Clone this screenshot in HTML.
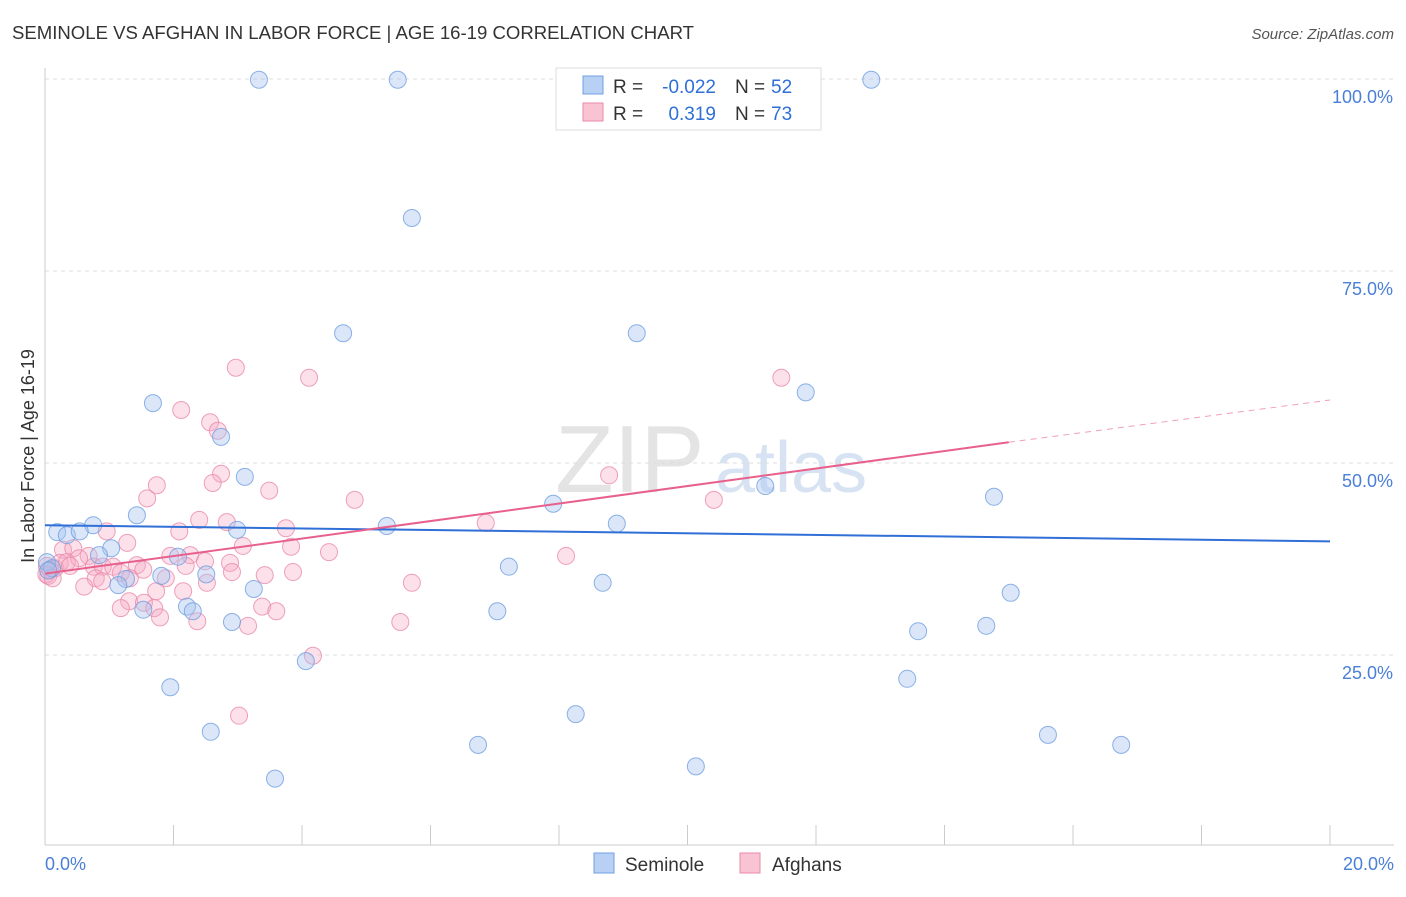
<!DOCTYPE html>
<html><head><meta charset="utf-8"><style>
body{margin:0;background:#fff;font-family:"Liberation Sans",sans-serif}
svg text{font-family:"Liberation Sans",sans-serif}
</style></head><body>
<svg id="c" width="1406" height="892">
<text x="12" y="39" font-size="18" fill="#333" textLength="682" lengthAdjust="spacingAndGlyphs">SEMINOLE VS AFGHAN IN LABOR FORCE | AGE 16-19 CORRELATION CHART</text>
<text x="1394" y="39" font-size="15" fill="#555" font-style="italic" text-anchor="end">Source: ZipAtlas.com</text>
<g><text x="555" y="492" font-size="96" fill="#e4e4e4" font-family="Liberation Serif">ZIP</text><text x="715" y="492" font-size="72" fill="#d7e3f3">atlas</text></g>
<g id="grid"></g><g id="axes"></g><g id="pts"></g><g id="lines"></g>
<text transform="translate(34,456) rotate(-90)" font-size="18" fill="#333" text-anchor="middle">In Labor Force | Age 16-19</text>
<g>
<rect x="556" y="68" width="265" height="62" fill="#fff" stroke="#ddd"/>
<rect x="583" y="76" width="20" height="18" fill="#b8d0f3" stroke="#6f9fe0"/>
<rect x="583" y="103" width="20" height="18" fill="#f8c4d4" stroke="#ea8aab"/>
<text x="613" y="93" font-size="19" fill="#333">R =</text>
<text x="716" y="93" font-size="19" fill="#2f6fd6" text-anchor="end">-0.022</text>
<text x="735" y="93" font-size="19" fill="#333">N =</text>
<text x="771" y="93" font-size="19" fill="#2f6fd6">52</text>
<text x="613" y="120" font-size="19" fill="#333">R =</text>
<text x="716" y="120" font-size="19" fill="#2f6fd6" text-anchor="end">0.319</text>
<text x="735" y="120" font-size="19" fill="#333">N =</text>
<text x="771" y="120" font-size="19" fill="#2f6fd6">73</text>
</g>
<g>
<rect x="594" y="853" width="20" height="20" fill="#b8d0f3" stroke="#6f9fe0"/>
<text x="625" y="871" font-size="19" fill="#333">Seminole</text>
<rect x="740" y="853" width="20" height="20" fill="#f8c4d4" stroke="#ea8aab"/>
<text x="772" y="871" font-size="19" fill="#333">Afghans</text>
</g>
</svg>
<script>
const yTicks=[25,50,75,100];
const yTickLabels=["25.0%","50.0%","75.0%","100.0%"];
const xTickLabels=["0.0%","20.0%"];
const seminoleX=[3.33,5.49,12.86,5.71,4.64,9.21,1.68,11.84,2.74,3.11,11.21,14.77,7.91,1.43,0.75,0.19,0.34,0.54,2.99,5.32,8.90,1.03,0.84,2.07,0.03,0.11,1.26,1.14,1.81,2.51,3.25,7.22,8.68,15.03,1.53,2.21,2.30,7.04,2.91,13.59,14.65,4.06,1.95,13.42,8.26,2.58,6.74,15.61,16.75,10.13,3.58,0.05];
const seminoleY=[99.9,99.9,99.9,81.9,66.9,66.9,57.8,59.2,53.4,48.2,47.0,45.6,44.7,43.2,41.9,41.0,40.6,41.1,41.3,41.8,42.1,38.9,38.0,37.8,37.1,36.3,34.9,34.1,35.3,35.5,33.6,36.5,34.4,33.1,30.9,31.3,30.7,30.7,29.3,28.1,28.8,24.2,20.8,21.9,17.3,15.0,13.3,14.6,13.3,10.5,8.9,36.0];
const afghansX=[2.97,4.11,11.46,2.12,2.57,2.69,2.74,2.61,1.74,3.49,1.59,4.82,8.78,10.41,2.40,2.83,3.75,6.86,2.09,0.96,3.08,3.83,4.42,8.11,0.28,0.44,0.68,1.28,1.95,2.26,2.49,2.88,0.03,0.16,0.23,0.34,0.53,0.76,0.90,1.06,1.18,1.43,1.53,1.88,2.19,2.91,3.42,3.86,5.71,0.79,0.89,0.61,1.32,2.52,1.73,2.15,1.31,1.54,1.18,1.70,1.79,2.37,3.38,3.60,3.16,5.53,4.17,3.02,0.05,0.08,0.39,0.02,0.12];
const afghansY=[62.4,61.1,61.1,56.9,55.3,54.2,48.6,47.4,47.1,46.4,45.4,45.2,48.4,45.2,42.6,42.3,41.5,42.2,41.1,41.1,39.2,39.1,38.4,37.9,38.7,38.9,37.9,39.6,37.9,38.0,37.2,37.0,36.6,36.3,37.0,37.1,37.6,36.5,36.5,36.5,35.7,36.7,36.1,35.0,36.6,35.8,35.4,35.8,34.4,35.0,34.6,33.9,35.0,34.4,33.3,33.3,32.0,31.8,31.1,31.1,29.9,29.4,31.3,30.7,28.8,29.3,24.9,17.1,35.3,36.1,36.6,35.5,35.0];
const seminoleTrend=[41.9,39.8];
const afghansTrend=[35.6,52.7,58.2];
const NS="http://www.w3.org/2000/svg";
const X=v=>45+v/20*1285, Y=v=>847-v/100*768;
function mk(t,a,p){const e=document.createElementNS(NS,t);for(const k in a)e.setAttribute(k,a[k]);p.appendChild(e);return e;}
const grid=document.getElementById('grid'),axes=document.getElementById('axes'),pts=document.getElementById('pts'),lines=document.getElementById('lines');
yTicks.forEach((t,i)=>{
 const g=mk('line',{x1:45,x2:1394,y1:Y(t),y2:Y(t),stroke:'#dcdcdc','stroke-dasharray':'4,4'},grid);
 
 
 const l=mk('text',{x:1393,y:Y(t)+24,'font-size':18,fill:'#4a7fd6','text-anchor':'end'},axes);
 l.textContent=yTickLabels[i];
 
 
});
const ax=mk('line',{x1:45,x2:1394,y1:845,y2:845,stroke:'#ccc'},axes);


const ay=mk('line',{x1:45,x2:45,y1:68,y2:845,stroke:'#ccc'},axes);


for(let i=0;i<=10;i++){const t=mk('line',{x1:X(i*2),x2:X(i*2),y1:825,y2:845,stroke:'#ccc'},axes);
 
 }
[[0,'start',45],[1,'end',1394]].forEach(([i,a,x])=>{const t=mk('text',{x:x,y:870,'font-size':18,fill:'#4a7fd6','text-anchor':a},axes);t.textContent=xTickLabels[i];
 
 });
function dots(xs,ys,fill,stroke,name){xs.forEach((x,i)=>{const c=mk('circle',{cx:X(x),cy:Y(ys[i]),r:8.5,fill:fill,stroke:stroke,'stroke-width':1,'stroke-opacity':0.8},pts);
 
 });}
dots(afghansX,afghansY,'rgba(246,170,196,0.35)','#ea8aab','afghans-point');
dots(seminoleX,seminoleY,'rgba(165,195,240,0.4)','#6f9fe0','seminole-point');
const bl=mk('line',{x1:X(0),x2:X(20),y1:Y(seminoleTrend[0]),y2:Y(seminoleTrend[1]),stroke:'#2f6fd6','stroke-width':2},lines);


const pl=mk('line',{x1:X(0),x2:X(15),y1:Y(afghansTrend[0]),y2:Y(afghansTrend[1]),stroke:'#e8608c','stroke-width':2},lines);


const pd=mk('line',{x1:X(15),x2:X(20),y1:Y(afghansTrend[1]),y2:Y(afghansTrend[2]),stroke:'#e8608c','stroke-width':1,'stroke-dasharray':'6,5',opacity:0.6},lines);


</script>
</body></html>
